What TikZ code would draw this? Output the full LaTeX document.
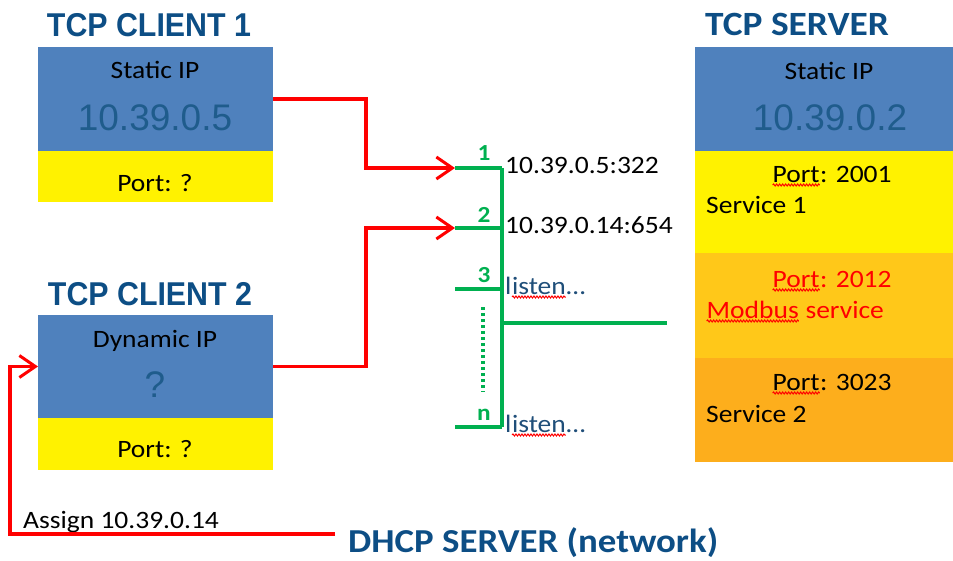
\documentclass[tikz,border=0pt]{standalone}
\usepackage{fontspec}
\setmainfont{Carlito}[FakeStretch=1.1]
\newfontfamily\arialfont{Liberation Sans}
\newfontfamily\narrowfont[FakeStretch=0.92]{Liberation Sans}
\usetikzlibrary{arrows.meta,decorations.pathmorphing}
\definecolor{boxblue}{HTML}{4F81BD}
\definecolor{titleblue}{HTML}{0D4E85}
\definecolor{ipblue}{HTML}{1F5C8C}
\definecolor{listenblue}{HTML}{1F4E79}
\definecolor{busgreen}{HTML}{00B050}
\definecolor{lightorange}{HTML}{FFC819}
\definecolor{darkorange}{HTML}{FDAE1C}
\newcommand\wavy[1]{\tikz[baseline=(w.base)]{\node[inner sep=0pt,outer sep=0pt](w){#1};
  \draw[red,line width=1pt,decorate,decoration={snake,amplitude=1pt,segment length=3pt}]
    ([yshift=-3pt]w.base west) -- ([yshift=-3pt]w.base east);}}
\tikzset{
  panel/.style={anchor=north west,inner sep=0pt,outer sep=0pt,minimum width=#1},
  clienttitle/.style={anchor=base,inner sep=0pt,text=titleblue,font=\narrowfont\bfseries\fontsize{33}{36}\selectfont},
  title/.style={anchor=base west,inner sep=0pt,text=titleblue,font=\bfseries\fontsize{34}{36}\selectfont},
  txt/.style={anchor=base,inner sep=0pt,font=\fontsize{25}{28}\selectfont},
  ltxt/.style={anchor=base west,inner sep=0pt,font=\fontsize{25}{28}\selectfont},
  ip/.style={anchor=base,inner sep=0pt,text=ipblue,font=\arialfont\fontsize{37}{40}\selectfont},
  num/.style={anchor=base,inner sep=0pt,text=busgreen,font=\bfseries\fontsize{23}{24}\selectfont},
  redline/.style={red,line width=3.5pt},
  busline/.style={busgreen,line width=3.5pt},
  tip/.style={-{Straight Barb[length=16pt,width=22pt,line width=3pt]}}
}
\begin{document}
\begin{tikzpicture}[x=1pt,y=-1pt]
  \useasboundingbox (0,0) rectangle (953,560);
  % client 1
  \node[clienttitle] (c1title) at (149,36) {TCP CLIENT 1};
  \node[panel=235pt,fill=boxblue,minimum height=104pt] (c1ip) at (38,47) {};
  \node[panel=235pt,fill=yellow,minimum height=51pt] (c1port) at (38,151) {};
  \node[txt] (c1kind) at (155,78) {Static IP};
  \node[ip] (c1addr) at (155,130) {10.39.0.5};
  \node[txt] (c1num) at (155,191) {Port: ?};
  % client 2
  \node[clienttitle] (c2title) at (150,305) {TCP CLIENT 2};
  \node[panel=235pt,fill=boxblue,minimum height=103pt] (c2ip) at (38,315) {};
  \node[panel=235pt,fill=yellow,minimum height=52pt] (c2port) at (38,418) {};
  \node[txt] (c2kind) at (155,347) {Dynamic IP};
  \node[ip] (c2addr) at (155,397) {?};
  \node[txt] (c2num) at (155,457) {Port: ?};
  % server
  \node[title] (stitle) at (705,35) {TCP SERVER};
  \node[panel=258pt,fill=boxblue,minimum height=104pt] (sip) at (695,47) {};
  \node[panel=258pt,fill=yellow,minimum height=102pt] (s1) at (695,151) {};
  \node[panel=258pt,fill=lightorange,minimum height=105pt] (s2) at (695,253) {};
  \node[panel=258pt,fill=darkorange,minimum height=104pt] (s3) at (695,358) {};
  \node[txt] (skind) at (829,79) {Static IP};
  \node[ip] (saddr) at (830,130) {10.39.0.2};
  \node[ltxt] (s1port) at (772,182) {\wavy{Port}: 2001};
  \node[ltxt] (s1name) at (706,213) {Service 1};
  \node[ltxt,text=red] (s2port) at (772,287) {\wavy{Port}: 2012};
  \node[ltxt,text=red] (s2name) at (706,318) {\wavy{Modbus} service};
  \node[ltxt] (s3port) at (772,390) {\wavy{Port}: 3023};
  \node[ltxt] (s3name) at (706,422) {Service 2};
  % sockets
  \coordinate (bustop) at (502,168);
  \coordinate (busbot) at (502,427);
  \coordinate (busmid) at (502,323);
  \coordinate (busout) at (667,323);
  \foreach \n/\y in {1/168,2/228,3/289,4/427} {
    \coordinate (stub\n) at (455,\y);
    \draw[busline] (stub\n) -- (502,\y);
  }
  \draw[busline] (bustop) -- (busbot);
  \draw[busline] (busmid) -- (busout);
  \draw[busgreen,line width=3.5pt,dash pattern=on 3pt off 3pt] (483,307) -- (483,392);
  \node[num] (n1) at (484,160) {1};
  \node[num] (n2) at (484,222) {2};
  \node[num] (n3) at (484,282) {3};
  \node[num] (n4) at (484,420) {n};
  \node[ltxt] (sock1) at (505,173) {10.39.0.5:322};
  \node[ltxt] (sock2) at (505,233) {10.39.0.14:654};
  \node[ltxt,text=listenblue] (sock3) at (505,294) {l\wavy{isten}\dots};
  \node[ltxt,text=listenblue] (sock4) at (505,432) {l\wavy{isten}\dots};
  % connections
  \draw[redline,tip] (c1ip.east) -- ++(93,0) |- (stub1);
  \draw[redline,tip] (c2ip.east) -- ++(93,0) |- (stub2);
  % dhcp
  \node[title,font=\bfseries\fontsize{33.5}{36}\selectfont] (dhcp) at (348,552) {DHCP SERVER (network)};
  \coordinate (dhcpin) at (335,534);
  \node[ltxt] (assign) at (23,528) {Assign 10.39.0.14};
  \draw[redline,tip] (dhcpin) -| ([xshift=-28pt]c2ip.west) -- (c2ip.west);
\end{tikzpicture}
\end{document}
